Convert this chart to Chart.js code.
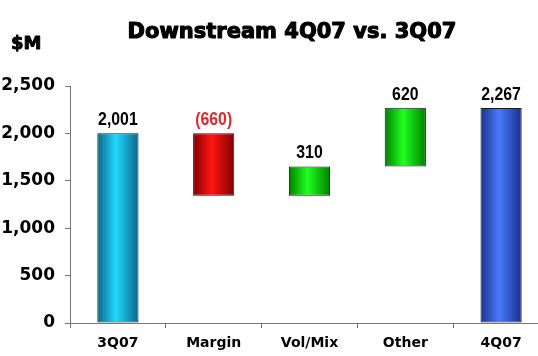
<!DOCTYPE html>
<html>
<head>
<meta charset="utf-8">
<script src="https://cdn.jsdelivr.net/npm/chart.js@4"></script>
<style>
  html, body { margin: 0; padding: 0; background: #fff; overflow: hidden; }
  #wrap { width: 549px; height: 356px; }
</style>
</head>
<body>
<div id="wrap"><canvas id="waterfall"></canvas></div>
<script>
// Downstream 4Q07 vs. 3Q07 bridge ($M)

const categories = ["3Q07", "Margin", "Vol/Mix", "Other", "4Q07"];
const changes = [2001, -660, 310, 620, 2267];   // first and last are totals
const valueLabels = ["2,001", "(660)", "310", "620", "2,267"];
const yTicks = [0, 500, 1000, 1500, 2000, 2500];

// colours per bar: [edge, highlight]
const barShades = [
    ["#0a6688", "#22d8ff"],
    ["#800000", "#ff1414"],
    ["#008000", "#20ff20"],
    ["#008000", "#20ff20"],
    ["#18308a", "#4a78ff"],
];

// build floating bars from the deltas
const floats = [];
let running = 0;
changes.forEach((v, i) => {
    if (i === 0 || i === changes.length - 1) {
        floats.push([0, v]);
        running = v;
    } else {
        floats.push([running, running + v]);
        running += v;
    }
});

const BAR_PCT = 0.43;

function cylinderFill(context) {
    const chart = context.chart;
    const i = context.dataIndex;
    const shade = barShades[i] || barShades[0];
    if (!chart.chartArea || i === undefined) return shade[1];
    const xs = chart.scales.x;
    const cx = xs.getPixelForValue(i);
    const w = (chart.chartArea.width / categories.length) * BAR_PCT;
    const g = chart.ctx.createLinearGradient(cx - w / 2, 0, cx + w / 2, 0);
    g.addColorStop(0, shade[0]);
    g.addColorStop(0.45, shade[1]);
    g.addColorStop(1, shade[0]);
    return g;
}

function heavyText(ctx, txt, x, y, stroke) {
    ctx.fillText(txt, x, y);
    ctx.lineWidth = stroke;
    ctx.strokeText(txt, x, y);
}

const textPlugin = {
    id: "textPlugin",
    afterDraw(chart) {
        const ctx = chart.ctx;
        ctx.save();
        ctx.fillStyle = "#000";
        ctx.strokeStyle = "#000";
        ctx.lineJoin = "round";
        ctx.textBaseline = "alphabetic";
        ctx.textAlign = "center";
        ctx.font = "bold 21px 'DejaVu Sans'";
        heavyText(ctx, "Downstream 4Q07 vs. 3Q07", 292, 38, 1.1);
        ctx.textAlign = "left";
        ctx.font = "bold 18px 'DejaVu Sans'";
        heavyText(ctx, "$M", 11, 49, 0.9);

        // value labels above each bar, slightly condensed
        const meta = chart.getDatasetMeta(0);
        ctx.textAlign = "center";
        ctx.font = "bold 18px 'Liberation Sans'";
        meta.data.forEach((bar, i) => {
            const top = Math.min(bar.y, bar.base);
            ctx.fillStyle = changes[i] < 0 ? "#e0282e" : "#000";
            ctx.save();
            ctx.translate(bar.x, top - 8);
            ctx.scale(0.88, 1);
            ctx.fillText(valueLabels[i], 0, 0);
            ctx.restore();
        });
        ctx.restore();
    }
};

const chart = new Chart(document.getElementById("waterfall"), {
    type: "bar",
    data: {
        labels: categories,
        datasets: [{
            data: floats,
            backgroundColor: cylinderFill,
            borderColor: "#1a1a1a",
            borderWidth: 1,
            borderSkipped: false,
            barPercentage: BAR_PCT,
            categoryPercentage: 1,
        }],
    },
    options: {
        responsive: true,
        maintainAspectRatio: false,
        animation: false,
        layout: { padding: { top: 86, right: 0, left: 0, bottom: 0 } },
        plugins: {
            legend: { display: false },
            title: { display: false },
            tooltip: { enabled: false },
        },
        scales: {
            x: {
                afterFit: s => { s.height = 33; },
                border: { color: "#777", width: 1 },
                grid: { drawOnChartArea: false, color: "#777", tickLength: 5, offset: true },
                ticks: {
                    color: "#000",
                    padding: 7,
                    maxRotation: 0,
                    font: { family: "'DejaVu Sans'", size: 14, weight: "bold" },
                },
            },
            y: {
                min: 0,
                max: 2500,
                afterFit: s => { s.width = 70; },
                afterBuildTicks: s => { s.ticks = yTicks.map(v => ({ value: v })); },
                border: { color: "#777", width: 1 },
                grid: { drawOnChartArea: false, color: "#777", tickLength: 5 },
                ticks: {
                    color: "#000",
                    padding: 10,
                    font: { family: "'DejaVu Sans'", size: 17, weight: "bold" },
                    callback: v => v.toLocaleString("en-US"),
                },
            },
        },
    },
    plugins: [textPlugin],
});
</script>
</body>
</html>
